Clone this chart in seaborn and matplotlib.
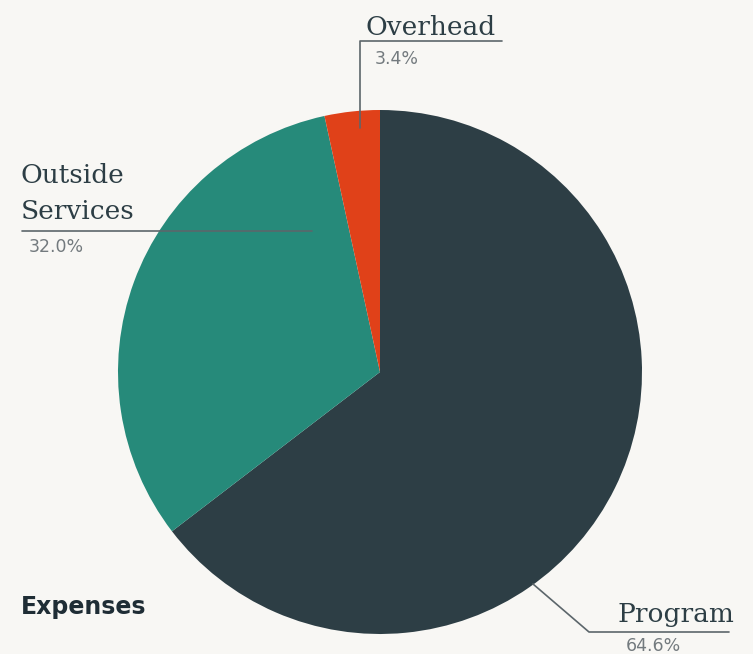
import matplotlib
matplotlib.use("Agg")
import matplotlib.pyplot as plt
import seaborn as sns

categories = ["Program", "Outside Services", "Overhead"]
values = [64.6, 32.0, 3.4]
pct_labels = ["64.6%", "32.0%", "3.4%"]
colors = ["#2d3e45", "#268a7a", "#e04119"]

sns.set_theme(style="white")
BG = "#f8f7f4"
W, H = 753, 654
fig = plt.figure(figsize=(W / 100, H / 100), dpi=100, facecolor=BG)
ax = fig.add_axes([0, 0, 1, 1])
ax.set_facecolor(BG)

def Y(y):
    return H - y

ax.pie(values, colors=colors, startangle=90, counterclock=False,
       center=(380, Y(372)), radius=262, frame=False,
       wedgeprops=dict(linewidth=0))
ax.set_xlim(0, W)
ax.set_ylim(0, H)
ax.set_aspect("auto")
ax.axis("off")

serif = dict(family="DejaVu Serif", color="#2d3e45", fontsize=19)
pct = dict(family="DejaVu Sans", color="#737a7e", fontsize=12.5)
line_kw = dict(color="#5c666b", lw=1.2)

# Overhead
ax.plot([360, 360, 502], [Y(128), Y(41), Y(41)], **line_kw)
ax.text(366, Y(35), categories[2], ha="left", va="baseline", **serif)
ax.text(375, Y(59), pct_labels[2], ha="left", va="center", **pct)

# Outside Services
ax.plot([22, 312], [Y(231), Y(231)], **line_kw)
ax.text(21, Y(183), "Outside", ha="left", va="baseline", **serif)
ax.text(21, Y(219), "Services", ha="left", va="baseline", **serif)
ax.text(29, Y(247), pct_labels[1], ha="left", va="center", **pct)

# Program
ax.plot([533, 589, 729], [Y(584), Y(632), Y(632)], **line_kw)
ax.text(734, Y(622), categories[0], ha="right", va="baseline", **serif)
ax.text(626, Y(646), pct_labels[0], ha="left", va="center", **pct)

ax.text(21, Y(607), "Expenses", ha="left", va="center", family="DejaVu Sans",
        fontweight="bold", fontsize=17, color="#1f2d35")

fig.savefig("out.png", dpi=100, facecolor=BG)
